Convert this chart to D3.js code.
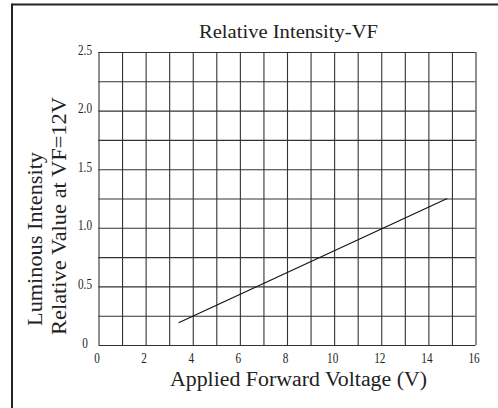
<!DOCTYPE html>
<html>
<head>
<meta charset="utf-8">
<script src="https://cdn.jsdelivr.net/npm/d3@7"></script>
<style>
  html, body { margin: 0; padding: 0; background: #fff; }
  svg { display: block; }
  text { font-family: "Liberation Serif", "DejaVu Serif", serif; fill: #222; }
</style>
</head>
<body>
<svg id="chart" width="498" height="408"></svg>
<script>
// ---- data ----
const title = "Relative Intensity-VF";
const xTitle = "Applied Forward Voltage (V)";
const yTitleLines = ["Luminous Intensity", "Relative Value at VF=12V"];
const xTickValues = [0, 2, 4, 6, 8, 10, 12, 14, 16];
const xTickLabels = ["0", "2", "4", "6", "8", "10", "12", "14", "16"];
const yTickValues = [0, 0.5, 1.0, 1.5, 2.0, 2.5];
const yTickLabels = ["0", "0.5", "1.0", "1.5", "2.0", "2.5"];
const xGridValues = d3.range(0, 17, 1);
const yGridValues = [0, 0.25, 0.5, 0.75, 1.0, 1.25, 1.5, 1.75, 2.0, 2.25, 2.5];
const curveVoltage = [3.4, 14.8];
const curveIntensity = [0.19, 1.25];

// ---- layout ----
const svg = d3.select("#chart");
const L = 98.5, R = 475.5, T = 52, B = 345;
const x = d3.scaleLinear().domain([0, 16]).range([L, R]);
const y = d3.scaleLinear().domain([0, 2.5]).range([B, T]);

// outer frame (top and left edges visible)
svg.append("line").attr("x1", 12).attr("x2", 498).attr("y1", 4.5).attr("y2", 4.5)
  .attr("stroke", "#222").attr("stroke-width", 2);
svg.append("line").attr("x1", 12).attr("x2", 12).attr("y1", 3.5).attr("y2", 408)
  .attr("stroke", "#222").attr("stroke-width", 2);

// grid via axes
const gx = svg.append("g").attr("transform", `translate(0,${B})`)
  .call(d3.axisBottom(x).tickValues(xGridValues).tickSize(-(B - T)).tickFormat(""));
const gy = svg.append("g").attr("transform", `translate(${L},0)`)
  .call(d3.axisLeft(y).tickValues(yGridValues).tickSize(-(R - L)).tickFormat(""));
[gx, gy].forEach(g => {
  g.select(".domain").remove();
  g.selectAll(".tick line").attr("stroke", "#333").attr("stroke-width", 1.1);
});

// tick labels (narrow serif look)
svg.append("g").selectAll("text").data(xTickValues).join("text")
  .attr("transform", d => `translate(${x(d) - 1.5},363) scale(0.8,1)`)
  .attr("text-anchor", "middle").attr("font-size", 14).attr("fill", "#333")
  .text((d, i) => xTickLabels[i]);
svg.append("g").selectAll("text").data(yTickValues).join("text")
  .attr("transform", d => `translate(85,${y(d) + 2.5}) scale(0.8,1)`)
  .attr("text-anchor", "middle").attr("font-size", 14).attr("fill", "#333")
  .text((d, i) => yTickLabels[i]);

// curve
const line = d3.line().x(d => x(d[0])).y(d => y(d[1]));
svg.append("path").datum(curveVoltage.map((v, i) => [v, curveIntensity[i]]))
  .attr("d", line).attr("fill", "none").attr("stroke", "#111").attr("stroke-width", 1.1);

// titles
svg.append("text").attr("x", 288.5).attr("y", 38).attr("text-anchor", "middle")
  .attr("font-size", 19.5).attr("textLength", 179).attr("lengthAdjust", "spacingAndGlyphs")
  .text(title);
svg.append("text").attr("x", 298.5).attr("y", 386).attr("text-anchor", "middle")
  .attr("font-size", 20.5).attr("textLength", 257).attr("lengthAdjust", "spacingAndGlyphs")
  .text(xTitle);
const yCenters = [239, 216];
const yBase = [42, 66];
const yLens = [174, 238];
yTitleLines.forEach((t, i) => {
  svg.append("text")
    .attr("transform", `translate(${yBase[i]},${yCenters[i]}) rotate(-90)`)
    .attr("text-anchor", "middle").attr("font-size", 20.5)
    .attr("textLength", yLens[i]).attr("lengthAdjust", "spacingAndGlyphs")
    .text(t);
});
</script>
</body>
</html>
